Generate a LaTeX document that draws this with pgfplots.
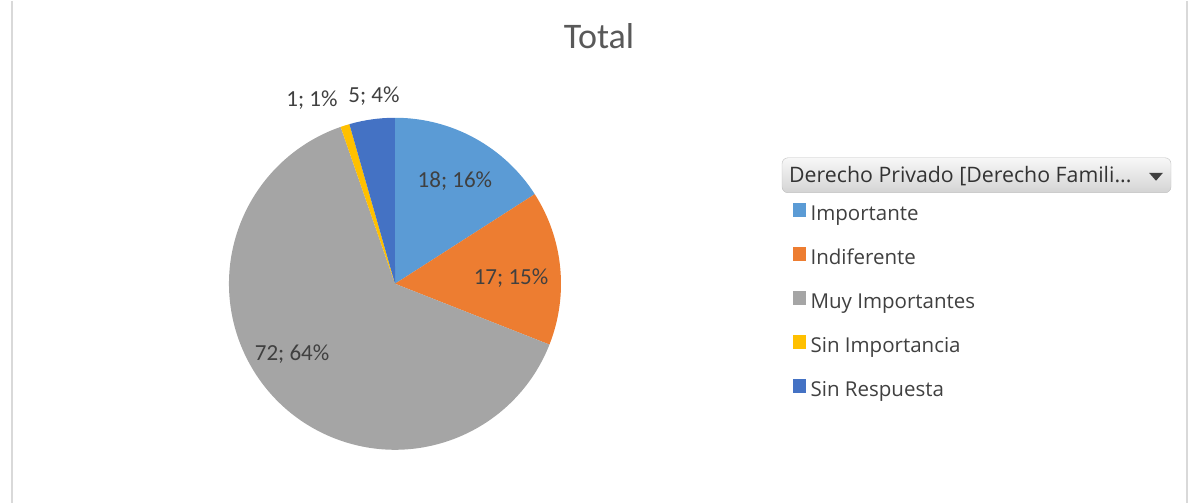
\documentclass[border=0pt]{standalone}
\usepackage{pgfplots}
\pgfplotsset{compat=1.18}
\usepackage{pgfplotstable}
\usepackage{fontspec}
\setmainfont{Open Sans}
\newfontfamily\carlito{Carlito}
\definecolor{slice0}{HTML}{5B9BD5}
\definecolor{slice1}{HTML}{ED7D31}
\definecolor{slice2}{HTML}{A5A5A5}
\definecolor{slice3}{HTML}{FFC000}
\definecolor{slice4}{HTML}{4472C4}
\definecolor{txt}{HTML}{404040}
\definecolor{ttl}{HTML}{595959}

\pgfplotstableread{
label value
{Importante} 18
{Indiferente} 17
{Muy Importantes} 72
{Sin Importancia} 1
{Sin Respuesta} 5
}\piedata

\begin{document}
\begin{tikzpicture}
% frame of the picture
\path (0pt,0pt) rectangle (1191pt,-502pt);
\draw[color=black!15, line width=1.5pt] (12pt,0pt) -- (12pt,-502pt);
\draw[color=black!15, line width=1.5pt] (1187pt,0pt) -- (1187pt,-502pt);

% total and slice angles from the table
\gdef\total{0}
\foreach \i in {0,...,4}{
  \pgfplotstablegetelem{\i}{value}\of\piedata
  \pgfmathsetmacro\t{\total+\pgfplotsretval}
  \xdef\total{\t}
}
\gdef\cur{90}
\foreach \i in {0,...,4}{
  \pgfplotstablegetelem{\i}{value}\of\piedata
  \pgfmathsetmacro\e{\cur-(\pgfplotsretval/\total)*360}
  \expandafter\xdef\csname sa\i\endcsname{\cur}
  \expandafter\xdef\csname ea\i\endcsname{\e}
  \xdef\cur{\e}
}

\begin{axis}[
  at={(395pt,-283pt)}, anchor=center,
  width=332pt, height=332pt, scale only axis,
  xmin=-1, xmax=1, ymin=-1, ymax=1,
  hide axis, clip=false,
  legend style={draw=none, fill=none, inner sep=0pt, row sep=21.8pt,
    at={(axis description cs:1.6988,0.743)}, anchor=north west,
    font=\fontsize{20.5}{20.5}\selectfont\color{txt},
    nodes={text height=15pt, text depth=5pt, inner sep=0pt},
    column sep=5pt},
  legend cell align=left,
  legend image code/.code={\fill[#1] (0pt,-1pt) rectangle (12pt,12pt);},
]
\pgfplotsinvokeforeach{0,...,4}{
  \fill[slice#1] (axis cs:0,0) --
    (axis cs:{cos(\csname sa#1\endcsname)},{sin(\csname sa#1\endcsname)})
    arc[start angle=\csname sa#1\endcsname, end angle=\csname ea#1\endcsname, radius=166pt] -- cycle;
}
\addlegendimage{slice0}\addlegendentry{Importante}
\addlegendimage{slice1}\addlegendentry{Indiferente}
\addlegendimage{slice2}\addlegendentry{Muy Importantes}
\addlegendimage{slice3}\addlegendentry{Sin Importancia}
\addlegendimage{slice4}\addlegendentry{Sin Respuesta}

\begin{scope}[every node/.style={font=\carlito\fontsize{23}{23}\selectfont, text=txt}]
\node at (axis cs:0.361,0.620) {18; 16\%};
\node at (axis cs:0.699,0.036) {17; 15\%};
\node at (axis cs:-0.620,-0.422) {72; 64\%};
\node at (axis cs:-0.500,1.108) {1; 1\%};
\node at (axis cs:-0.127,1.133) {5; 4\%};
\end{scope}
\end{axis}

% title
\node[font=\carlito\fontsize{36}{36}\selectfont, text=ttl] at (599pt,-35pt) {Total};

% field button above the legend
\shade[top color=black!3, bottom color=black!17, draw=black!25, rounded corners=6pt]
  (782pt,-157pt) rectangle (1171pt,-192pt);
\node[anchor=west, inner sep=0pt, font=\fontsize{21.3}{21.3}\selectfont, text=black!80]
  at (789pt,-175pt) {Derecho Privado [Derecho Famili...};
\fill[black!75] (1149pt,-172pt) -- (1163pt,-172pt) -- (1156pt,-180pt) -- cycle;
\end{tikzpicture}
\end{document}
